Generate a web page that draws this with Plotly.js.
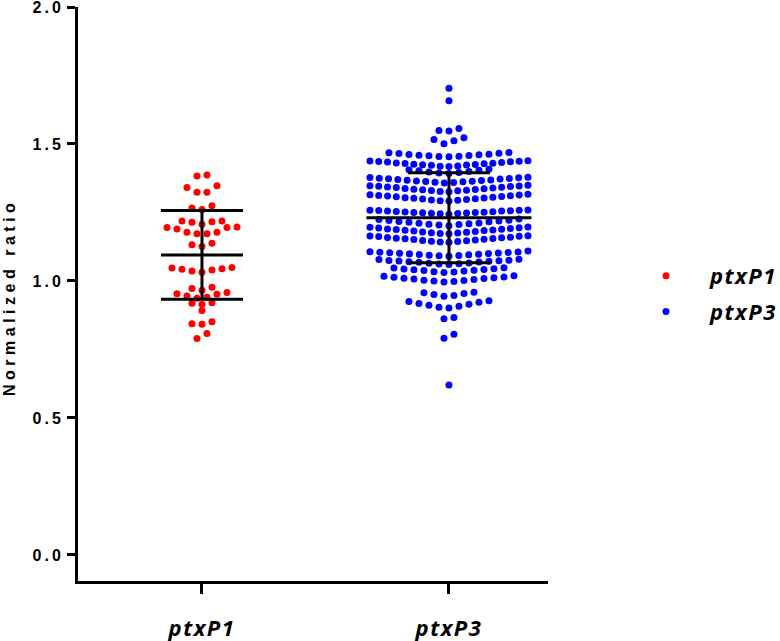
<!DOCTYPE html>
<html>
<head>
<meta charset="utf-8">
<script src="https://cdn.plot.ly/plotly-3.0.1.min.js"></script>
<style>
html,body{margin:0;padding:0;background:#fff}
#chart{width:780px;height:641px}
.ytick text{letter-spacing:3px}
.xtick text{letter-spacing:1.5px}
.legendtext{letter-spacing:1.5px}
.annotation-text{letter-spacing:4.5px}
</style>
</head>
<body>
<div id="chart"></div>
<script>
// ---------------- data ----------------
const categories = ['ptxP1', 'ptxP3'];

const ptxP1 = [
  0.790, 0.808,
  0.842, 0.844, 0.851,
  0.892,
  0.915, 0.919, 0.921,
  0.937, 0.941, 0.945, 0.952, 0.953, 0.958,
  0.966, 0.973, 0.977,
  1.032, 1.036, 1.040, 1.043, 1.045, 1.047, 1.049,
  1.126, 1.132, 1.138,
  1.172, 1.172, 1.178, 1.178, 1.190, 1.195, 1.195, 1.197,
  1.207, 1.214, 1.216, 1.219, 1.219,
  1.261, 1.266, 1.275,
  1.324, 1.324, 1.341, 1.348,
  1.383, 1.387
];

const ptxP3 = [
  0.620,
  0.791, 0.806,
  0.862, 0.867,
  0.901, 0.904, 0.908, 0.911, 0.915, 0.918, 0.922, 0.925, 0.928,
  0.944, 0.947, 0.951, 0.954, 0.957, 0.959,
  0.996, 0.998, 1.000, 1.002, 1.003, 1.005, 1.007, 1.009, 1.010, 1.012, 1.014, 1.015, 1.017, 1.019,
  1.031, 1.033, 1.034, 1.036, 1.038, 1.039, 1.041, 1.042, 1.044, 1.045, 1.047, 1.048,
  1.060, 1.062, 1.063, 1.065, 1.066, 1.068, 1.069, 1.070, 1.072, 1.073, 1.074, 1.075, 1.076, 1.078, 1.079,
  1.090, 1.092, 1.093, 1.094, 1.096, 1.097, 1.098, 1.099, 1.100, 1.101, 1.102, 1.103, 1.104, 1.105, 1.106, 1.107, 1.109,
  1.141, 1.142, 1.144, 1.145, 1.147, 1.148, 1.150, 1.151, 1.152, 1.154, 1.155, 1.156, 1.158, 1.159, 1.160, 1.162, 1.163, 1.164, 1.165,
  1.172, 1.173, 1.175, 1.176, 1.178, 1.179, 1.181, 1.182, 1.184, 1.185, 1.186, 1.188, 1.189, 1.190, 1.192, 1.193, 1.194, 1.196, 1.197,
  1.202, 1.204, 1.206, 1.207, 1.209, 1.211, 1.212, 1.214, 1.216, 1.217, 1.219, 1.221, 1.222, 1.224, 1.226,
  1.244, 1.245, 1.246, 1.247, 1.248, 1.249, 1.250, 1.250, 1.251, 1.252, 1.253, 1.254, 1.255, 1.255, 1.256, 1.257, 1.258, 1.258, 1.259,
  1.292, 1.293, 1.295, 1.296, 1.297, 1.299, 1.300, 1.302, 1.303, 1.304, 1.306, 1.307, 1.308, 1.310, 1.311, 1.312, 1.314, 1.315, 1.317,
  1.326, 1.327, 1.329, 1.330, 1.331, 1.333, 1.334, 1.335, 1.337, 1.338, 1.339, 1.341, 1.342, 1.343, 1.345, 1.346, 1.347, 1.348, 1.349,
  1.358, 1.359, 1.360, 1.362, 1.363, 1.364, 1.365, 1.367, 1.368, 1.369, 1.370, 1.372, 1.373, 1.374, 1.375, 1.377, 1.378, 1.379,
  1.392, 1.394, 1.396, 1.398, 1.400, 1.402, 1.404, 1.406, 1.408,
  1.418, 1.419, 1.420, 1.422, 1.423, 1.424, 1.425, 1.426, 1.428, 1.429, 1.430, 1.431, 1.432, 1.434, 1.435, 1.436, 1.437, 1.438, 1.439,
  1.453, 1.454, 1.455, 1.457, 1.458, 1.459, 1.461, 1.462, 1.463, 1.465, 1.466, 1.468, 1.469,
  1.501, 1.512, 1.516, 1.523,
  1.547, 1.549, 1.557,
  1.658,
  1.703
];

const means = [1.095, 1.231];
const sds = [0.162, 0.164];

const yTickVals = [0, 0.5, 1.0, 1.5, 2.0];
const yTickText = ['0.0', '0.5', '1.0', '1.5', '2.0'];
const colors = ['#FF0000', '#0000FF'];

// ---------------- geometry / style ----------------
const W = 780, H = 641;
const M = {l: 78, r: 232, t: 7, b: 60};
const xRange = [-0.502, 1.401];
const yRange = [-0.095, 2.0];
const plotW = W - M.l - M.r;
const plotH = H - M.t - M.b;
const pxPerX = plotW / (xRange[1] - xRange[0]);
const binH = 0.03;          // vertical bin for swarm rows (data units)
const stepPx = 10;          // max horizontal distance between neighbours (px)
const maxRowPx = 158;       // max row width (px)
const meanHalfPx = [41, 82.5];
const capHalfPx = 41;

// Prism-like column scatter: bin values into rows, place centre-out
function swarm(values, center) {
  const bins = new Map();
  values.forEach(v => {
    const k = Math.floor(v / binH + 1e-9);
    if (!bins.has(k)) bins.set(k, []);
    bins.get(k).push(v);
  });
  const xs = [], ys = [];
  bins.forEach(row => {
    row.sort((a, b) => a - b);
    const n = row.length;
    const step = n > 1 ? Math.min(stepPx, maxRowPx / (n - 1)) : 0;
    row.forEach((v, i) => {
      let slot;
      if (n % 2) slot = Math.ceil(i / 2) * (i % 2 ? -1 : 1);
      else slot = (Math.floor(i / 2) + 0.5) * (i % 2 === 0 ? -1 : 1);
      xs.push(center + slot * step / pxPerX);
      ys.push(v);
    });
  });
  return {xs, ys};
}

const traces = [];
[ptxP1, ptxP3].forEach((vals, g) => {
  const s = swarm(vals, g);
  traces.push({
    type: 'scatter', mode: 'markers', x: s.xs, y: s.ys,
    name: categories[g], legendgroup: categories[g],
    marker: {color: colors[g], size: 7, line: {width: 0}},
    cliponaxis: false, hoverinfo: 'y'
  });
});
means.forEach((m, g) => {
  const mh = meanHalfPx[g] / pxPerX, ch = capHalfPx / pxPerX;
  const hi = m + sds[g], lo = m - sds[g];
  traces.push({
    type: 'scatter', mode: 'lines',
    x: [g - mh, g + mh, null, g - ch, g + ch, null, g - ch, g + ch, null, g, g],
    y: [m, m, null, hi, hi, null, lo, lo, null, lo, hi],
    line: {color: '#000', width: 3}, showlegend: false, hoverinfo: 'skip', cliponaxis: false
  });
});

const labelFont = {family: 'Open Sans', size: 22, weight: 700, style: 'italic', color: '#000'};

const layout = {
  width: W, height: H,
  margin: {l: M.l, r: M.r, t: M.t, b: M.b, pad: 0, autoexpand: false},
  paper_bgcolor: '#fff', plot_bgcolor: '#fff',
  showlegend: true,
  legend: {
    x: (622 - M.l) / plotW, y: (H - M.b - 255) / plotH,
    xanchor: 'left', yanchor: 'top',
    itemwidth: 78, traceorder: 'grouped', tracegroupgap: 4,
    font: labelFont, bgcolor: 'rgba(0,0,0,0)', borderwidth: 0
  },
  xaxis: {
    range: xRange, tickvals: [0, 1], ticktext: categories,
    showline: true, linewidth: 3, linecolor: '#000',
    ticks: 'outside', ticklen: 10, tickwidth: 3, tickcolor: '#000',
    showgrid: false, zeroline: false, ticklabelstandoff: 16,
    tickfont: labelFont, fixedrange: true
  },
  yaxis: {
    range: yRange, tickvals: yTickVals, ticktext: yTickText,
    showline: true, linewidth: 3, linecolor: '#000',
    ticks: 'outside', ticklen: 8, tickwidth: 3, tickcolor: '#000',
    showgrid: false, zeroline: false, ticklabeloverflow: 'allow',
    tickfont: {family: 'Liberation Sans', size: 16, weight: 700, color: '#000'},
    fixedrange: true
  },
  annotations: [{
    text: 'Normalized ratio', xref: 'paper', yref: 'paper',
    x: (10 - M.l) / plotW, y: (H - M.b - 298) / plotH,
    xanchor: 'center', yanchor: 'middle', textangle: -90, showarrow: false,
    font: {family: 'Liberation Sans', size: 16, weight: 700, color: '#000'}
  }]
};

Plotly.newPlot('chart', traces, layout, {displayModeBar: false, staticPlot: true});
</script>
</body>
</html>
